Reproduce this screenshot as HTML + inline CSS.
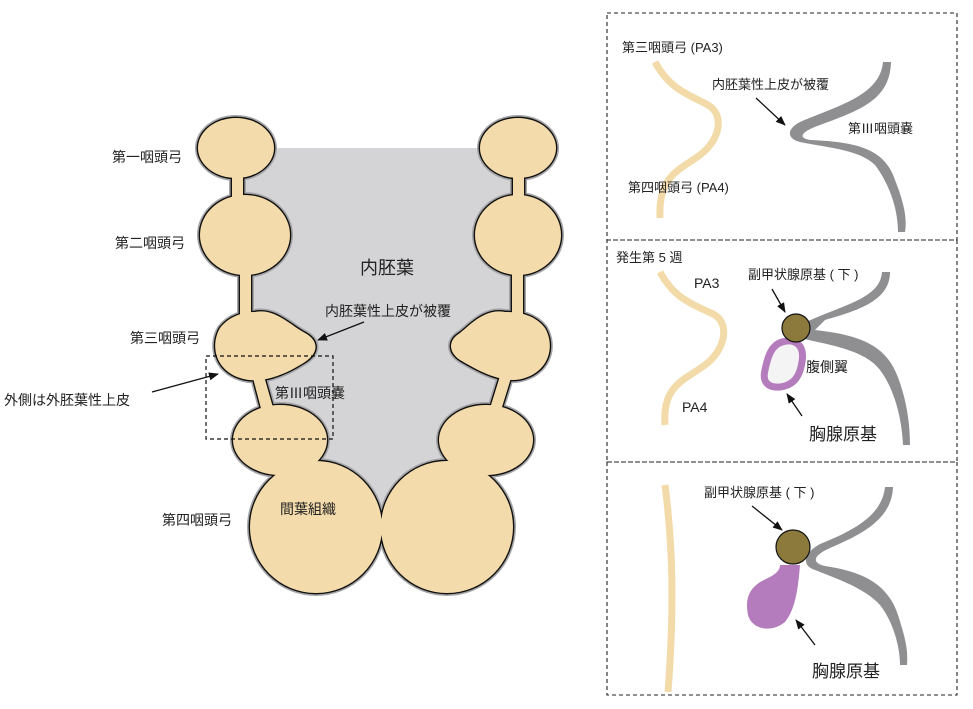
<!DOCTYPE html>
<html><head><meta charset="utf-8"><style>
html,body{margin:0;padding:0;background:#fff}
svg{display:block}
text{font-family:"Liberation Sans","Noto Sans CJK JP",sans-serif;fill:#222}
</style></head><body>
<svg width="973" height="709" viewBox="0 0 973 709" xmlns="http://www.w3.org/2000/svg">
<defs>
<marker id="ar" markerWidth="10" markerHeight="8" refX="9" refY="4" orient="auto" markerUnits="userSpaceOnUse"><path d="M0,0 L10,4 L0,8 z" fill="#111"/></marker>
<g id="arches">
<rect x="232" y="168" width="11" height="40"/>
<rect x="240" y="268" width="11" height="50"/>
<path d="M253,378 L264,376 L276,418 L264,420 Z"/>
<ellipse cx="236" cy="148" rx="38" ry="30"/>
<ellipse cx="245" cy="235" rx="45" ry="40"/>
<path d="M255,312 C275,308 290,325 305,333 C318,340 320,352 305,362 C285,375 260,385 240,378 C215,370 210,345 220,328 C230,315 245,312 255,312 Z"/>
<ellipse cx="280" cy="440" rx="47" ry="35"/>
<circle cx="316" cy="527" r="66"/>
<rect x="513" y="168" width="11" height="40"/>
<rect x="512" y="268" width="11" height="50"/>
<path d="M500,376 L511,378 L498,420 L487,418 Z"/>
<ellipse cx="518" cy="148" rx="38" ry="30"/>
<ellipse cx="518" cy="235" rx="43" ry="40"/>
<path d="M505,312 C485,308 470,325 460,333 C448,340 448,352 460,360 C480,372 505,385 525,378 C550,370 555,345 545,328 C535,315 520,312 505,312 Z"/>
<ellipse cx="486" cy="440" rx="47" ry="35"/>
<circle cx="447" cy="527" r="66"/>
</g>
</defs>
<path d="M245,148 L512,148 L515,200 L512,300 L505,410 L430,470 L385,505 L378,505 L330,470 L268,410 L250,300 L243,200 Z" fill="#d4d4d6"/>
<g fill="none" stroke="#a5a5a7" stroke-width="6"><use href="#arches"/></g>
<g fill="#111" stroke="#111" stroke-width="2.8"><use href="#arches"/></g>
<g fill="#f4dbab" stroke="none"><use href="#arches"/></g>
<text x="360" y="274" font-size="18">内胚葉</text>
<text x="325" y="316" font-size="14">内胚葉性上皮が被覆</text>
<line x1="364" y1="322" x2="318" y2="340" stroke="#111" stroke-width="1.3" marker-end="url(#ar)"/>
<text x="275" y="398" font-size="14">第Ⅲ咽頭嚢</text>
<text x="280" y="514" font-size="14">間葉組織</text>
<text x="112" y="162" font-size="14">第一咽頭弓</text>
<text x="115" y="248" font-size="14">第二咽頭弓</text>
<text x="130" y="343" font-size="14">第三咽頭弓</text>
<text x="4" y="405" font-size="14">外側は外胚葉性上皮</text>
<line x1="152" y1="392" x2="218" y2="374" stroke="#111" stroke-width="1.3" marker-end="url(#ar)"/>
<text x="162" y="525" font-size="14">第四咽頭弓</text>
<rect x="206" y="356" width="127" height="83" fill="none" stroke="#111" stroke-width="1.2" stroke-dasharray="4,3"/>
<g fill="none" stroke="#222" stroke-width="1.1" stroke-dasharray="4,3">
<rect x="607" y="13" width="350" height="227"/>
<rect x="607" y="240" width="350" height="222"/>
<rect x="607" y="462" width="350" height="233"/>
</g>
<g fill="none" stroke="#f2dba8" stroke-width="7" stroke-linecap="butt">
<path d="M655,62 C670,90 690,95 708,105 C725,115 720,140 700,155 C680,170 658,175 660,218"/>
<path d="M660,272 C675,300 695,305 715,315 C730,325 725,350 705,365 C685,380 662,385 665,425"/>
<path d="M665,485 C672,540 675,600 668,692"/>
</g>
<g fill="#8f8f91">
<path d="M883,62 L891,62 C890,100 860,110 820,125 C800,132 798,138 810,140 C860,142 885,150 895,180 C905,205 907,220 905,232 L898,232 C898,210 890,185 875,165 C860,150 830,148 800,142 C785,138 788,128 800,122 C840,105 880,95 883,62 Z"/>
<path d="M882,272 L890,272 C890,300 860,310 825,320 L815,330 C860,335 885,345 897,375 C907,400 910,425 910,445 L903,445 C902,420 895,390 880,370 C865,350 830,345 800,338 L800,325 C840,305 880,300 882,272 Z"/>
<path d="M885,487 L893,487 C892,520 860,535 830,548 C812,556 812,563 825,566 C865,572 888,585 898,615 C906,640 908,650 907,665 L900,665 C900,645 892,620 880,605 C865,588 835,578 815,570 C800,565 805,552 820,544 C855,530 882,515 885,487 Z"/>
</g>
<text x="622" y="52" font-size="13">第三咽頭弓 (PA3)</text>
<text x="712" y="89" font-size="13">内胚葉性上皮が被覆</text>
<line x1="756" y1="98" x2="785" y2="125" stroke="#111" stroke-width="1.3" marker-end="url(#ar)"/>
<text x="848" y="133" font-size="13">第Ⅲ咽頭嚢</text>
<text x="628" y="192" font-size="13">第四咽頭弓 (PA4)</text>
<text x="616" y="262" font-size="13">発生第 5 週</text>
<text x="694" y="288" font-size="14">PA3</text>
<text x="682" y="412" font-size="14">PA4</text>
<text x="748" y="279" font-size="13">副甲状腺原基 ( 下 )</text>
<line x1="772" y1="289" x2="785" y2="312" stroke="#111" stroke-width="1.3" marker-end="url(#ar)"/>
<path d="M782,342 C795,338 805,345 802,362 C800,375 795,385 780,387 C768,388 762,382 765,370 C768,355 772,345 782,342 Z" fill="#f4f4f4" stroke="#b47cbd" stroke-width="7"/>
<circle cx="796" cy="328" r="14" fill="#8b7a3c" stroke="#111" stroke-width="1.2"/>
<text x="806" y="372" font-size="14">腹側翼</text>
<line x1="802" y1="416" x2="787" y2="394" stroke="#111" stroke-width="1.3" marker-end="url(#ar)"/>
<text x="809" y="440" font-size="17">胸腺原基</text>
<text x="704" y="497" font-size="13">副甲状腺原基 ( 下 )</text>
<line x1="752" y1="506" x2="782" y2="530" stroke="#111" stroke-width="1.3" marker-end="url(#ar)"/>
<path d="M780,565 L800,565 C798,590 795,610 785,622 C772,633 752,630 748,615 C744,595 752,585 768,578 C776,574 780,570 780,565 Z" fill="#b47cbd"/>
<circle cx="793" cy="547" r="17" fill="#8b7a3c" stroke="#111" stroke-width="1.2"/>
<line x1="815" y1="645" x2="796" y2="620" stroke="#111" stroke-width="1.3" marker-end="url(#ar)"/>
<text x="812" y="677" font-size="17">胸腺原基</text>
</svg>
</body></html>
